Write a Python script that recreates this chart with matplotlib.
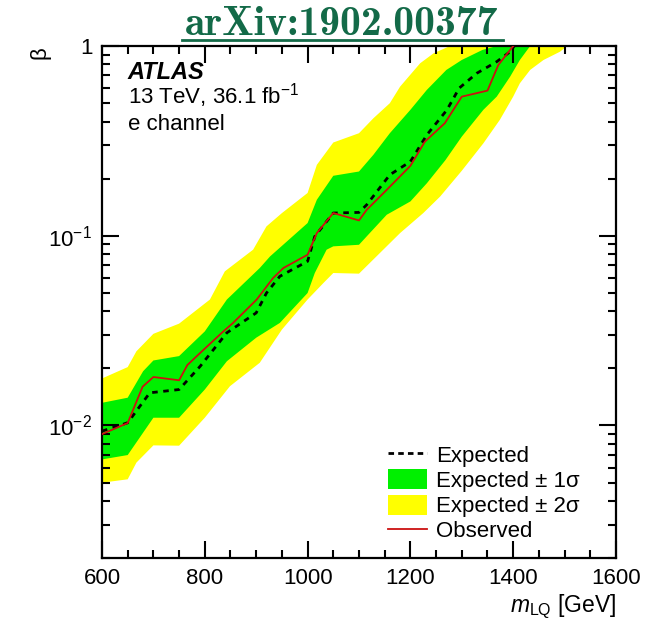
import matplotlib
matplotlib.use("Agg")
import matplotlib.pyplot as plt
from matplotlib.patches import Patch
from matplotlib.lines import Line2D
from matplotlib.ticker import MultipleLocator, LogLocator, NullFormatter, FixedLocator

plt.rcParams['font.family'] = ['Liberation Sans', 'DejaVu Sans']
plt.rcParams['mathtext.fontset'] = 'custom'
plt.rcParams['mathtext.rm'] = 'Liberation Sans'
plt.rcParams['mathtext.it'] = 'Liberation Sans:italic'

# limit curves: (mass [GeV], beta)
obs_mass = [600, 650, 679, 700, 750, 766, 791, 836, 855, 901, 933, 953, 1000, 1018,
            1050, 1100, 1115, 1154, 1200, 1228, 1267, 1300, 1350, 1371, 1400]
obs_beta = [0.0090, 0.0103, 0.0160, 0.0180, 0.0173, 0.0208, 0.0241, 0.0313, 0.0347,
            0.0461, 0.0599, 0.0676, 0.0794, 0.1033, 0.1317, 0.1204, 0.137, 0.1746,
            0.2336, 0.313, 0.392, 0.541, 0.582, 0.794, 1.0]

exp_mass = [600, 650, 693, 750, 791, 843, 900, 920, 946, 1000, 1014, 1050, 1100, 1115,
            1160, 1200, 1232, 1271, 1295, 1329, 1368, 1394, 1402]
exp_beta = [0.00933, 0.01033, 0.01486, 0.01546, 0.0205, 0.0308, 0.0392, 0.0499, 0.0611,
            0.0733, 0.0992, 0.1317, 0.1327, 0.1456, 0.2095, 0.246, 0.340, 0.46, 0.60,
            0.718, 0.827, 0.933, 1.0]

s1_up_mass = [600, 650, 680, 700, 750, 800, 843, 907, 927, 1000, 1018, 1050, 1100, 1128,
              1160, 1200, 1232, 1270, 1300, 1340, 1368]
s1_up_beta = [0.01316, 0.0140, 0.0193, 0.0220, 0.0232, 0.0313, 0.0461, 0.0676, 0.0778,
              0.1166, 0.1547, 0.207, 0.218, 0.267, 0.347, 0.461, 0.587, 0.748, 0.844,
              0.953, 1.0]
s1_dn_mass = [600, 650, 700, 750, 800, 843, 900, 946, 1000, 1014, 1037, 1050, 1100, 1115,
              1154, 1200, 1232, 1268, 1300, 1342, 1368, 1394, 1413, 1433]
s1_dn_beta = [0.00662, 0.00698, 0.01098, 0.01098, 0.01546, 0.0218, 0.029, 0.0347, 0.0499,
              0.0636, 0.0844, 0.0879, 0.0896, 0.0992, 0.129, 0.1516, 0.189, 0.25, 0.333,
              0.461, 0.541, 0.689, 0.844, 1.0]

s2_up_mass = [600, 650, 667, 700, 750, 810, 839, 894, 920, 950, 1000, 1018, 1050, 1100,
              1128, 1160, 1180, 1219, 1245, 1277]
s2_up_beta = [0.01768, 0.0203, 0.0246, 0.0304, 0.0344, 0.0461, 0.0649, 0.0844, 0.112,
              0.1316, 0.168, 0.2364, 0.31, 0.347, 0.416, 0.4995, 0.611, 0.811, 0.915, 1.0]
s2_dn_mass = [600, 650, 667, 700, 750, 800, 849, 907, 950, 1000, 1031, 1050, 1100, 1134,
              1180, 1225, 1258, 1300, 1342, 1374, 1400, 1413, 1433, 1459, 1491, 1505]
s2_dn_beta = [0.00499, 0.0052, 0.00637, 0.00785, 0.00782, 0.01098, 0.0161, 0.0214, 0.032,
              0.0461, 0.0564, 0.0636, 0.0631, 0.0778, 0.1033, 0.1316, 0.161, 0.22, 0.307,
              0.408, 0.541, 0.636, 0.748, 0.844, 0.933, 1.0]

GREEN = '#00f000'
YELLOW = '#ffff00'
RED = '#cc1111'
TITLE_GREEN = '#136a48'


def band(ax, up_m, up_b, dn_m, dn_b, color):
    xs = list(up_m) + [1700, 1700] + list(dn_m)[::-1]
    ys = list(up_b) + [up_b[-1] * 2, dn_b[-1] * 2] + list(dn_b)[::-1]
    ax.fill(xs, ys, color=color, lw=0, zorder=1)


fig = plt.figure(figsize=(6.48, 6.21), dpi=100)
ax = fig.add_axes([0.1574, 0.1014, 0.7932, 0.8245])

band(ax, s2_up_mass, s2_up_beta, s2_dn_mass, s2_dn_beta, YELLOW)
band(ax, s1_up_mass, s1_up_beta, s1_dn_mass, s1_dn_beta, GREEN)
ax.plot(exp_mass, exp_beta, color='black', ls=(0, (2, 2)), lw=2, zorder=3)
ax.plot(obs_mass, obs_beta, color=RED, lw=1.3, zorder=4)

ax.set_yscale('log')
ax.set_xlim(600, 1600)
ax.set_ylim(0.002, 1)

ax.xaxis.set_major_locator(MultipleLocator(200))
ax.xaxis.set_minor_locator(MultipleLocator(50))
ax.yaxis.set_major_locator(FixedLocator([0.01, 0.1, 1]))
ax.yaxis.set_minor_locator(LogLocator(base=10, subs=range(2, 10)))
ax.yaxis.set_minor_formatter(NullFormatter())
ax.set_yticklabels([r'$10^{-2}$', r'$10^{-1}$', '1'])

ax.tick_params(which='both', direction='in', top=True, right=True, labelsize=16, width=1.5)
ax.tick_params(which='major', length=12, pad=7)
ax.tick_params(which='minor', length=6)
for sp in ax.spines.values():
    sp.set_linewidth(1.6)

ax.set_xlabel(r'$m_{\mathrm{LQ}}$ [GeV]', fontsize=16.5, loc='right', labelpad=3)
ax.set_ylabel('β', fontsize=16, loc='top')
ax.yaxis.set_label_coords(-0.1, 1.0)

ax.text(0.05, 0.936, 'ATLAS', transform=ax.transAxes, fontsize=17,
        fontweight='bold', fontstyle='italic')
ax.text(0.05, 0.887, r'13 TeV, 36.1 fb$^{-1}$', transform=ax.transAxes, fontsize=16)
ax.text(0.05, 0.836, 'e channel', transform=ax.transAxes, fontsize=16)

handles = [Line2D([], [], color='black', ls=(0, (2, 1.5)), lw=2),
           Patch(color=GREEN, lw=0),
           Patch(color=YELLOW, lw=0),
           Line2D([], [], color=RED, lw=1.3)]
labels = ['Expected', 'Expected ± 1σ', 'Expected ± 2σ', 'Observed']
ax.legend(handles, labels, loc='lower left', bbox_to_anchor=(0.527, 0.0), frameon=False,
          fontsize=16, handlelength=1.75, handleheight=1.0, labelspacing=0.12,
          handletextpad=0.4, borderpad=0.2)

fig.text(0.527, 0.9436, 'arXiv:1902.00377', ha='center', va='baseline', fontsize=30,
         family='cmb10', color=TITLE_GREEN)
fig.add_artist(Line2D([0.281, 0.776], [0.9356, 0.9356], transform=fig.transFigure,
                      color=TITLE_GREEN, lw=2))

fig.savefig('out.png', dpi=100)
